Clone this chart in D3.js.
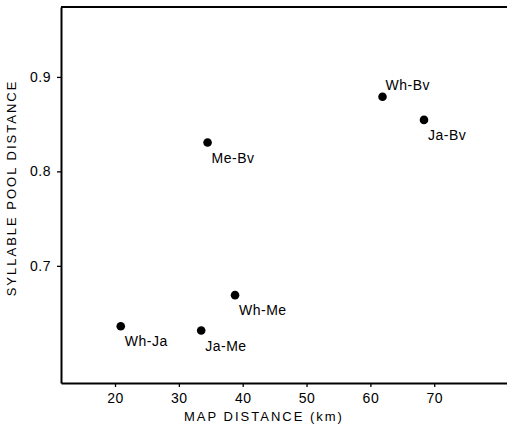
<!DOCTYPE html>
<html>
<head>
<meta charset="utf-8">
<script src="https://cdn.jsdelivr.net/npm/d3@7"></script>
<style>
  body { margin: 0; background: #fff; }
  svg { display: block; font-family: 'Liberation Sans', Arial, sans-serif; }
  .axis path, .axis line { stroke: #000; }
  .axis text { font-size: 14px; fill: #000; letter-spacing: 0.5px; }
</style>
</head>
<body>
<div id="chart"></div>
<script>
// village pairs, map distance (km) vs syllable pool distance
var pairs = ['Wh-Bv', 'Ja-Bv', 'Me-Bv', 'Wh-Me', 'Wh-Ja', 'Ja-Me']
var mapDistance = [61.9, 68.4, 34.5, 38.8, 20.9, 33.5]
var poolDistance = [0.879, 0.8545, 0.8305, 0.669, 0.636, 0.6315]
var xTicks = [20, 30, 40, 50, 60, 70]
var yTicks = [0.7, 0.8, 0.9]
var labelAbove = ['Wh-Bv']

var data = pairs.map(function (p, i) {
  return { key: p, x: mapDistance[i], y: poolDistance[i] }
})

var W = 507, H = 425
var margin = { top: 7, right: 0, bottom: 42, left: 61 },
  width = W - margin.left - margin.right,
  height = H - margin.top - margin.bottom

var svg = d3
  .select('#chart')
  .append('svg')
  .attr('width', W)
  .attr('height', H)

var g = svg
  .append('g')
  .attr('transform', 'translate(' + margin.left + ',' + margin.top + ')')

var x = d3.scaleLinear().domain([11.54, 81.4]).range([0, width])
var y = d3.scaleLinear().domain([0.576, 0.974]).range([height, 0])

// top edge of the frame
g.append('line')
  .attr('x1', 0)
  .attr('x2', width)
  .attr('y1', 0)
  .attr('y2', 0)
  .attr('stroke', '#000')
  .attr('stroke-width', 2)

var xAxis = g
  .append('g')
  .attr('class', 'axis')
  .attr('transform', 'translate(0,' + height + ')')
  .call(
    d3.axisBottom(x)
      .tickValues(xTicks)
      .tickSize(4)
      .tickSizeOuter(0)
      .tickPadding(6)
      .tickFormat(d3.format('d'))
  )
xAxis.select('.domain').attr('stroke-width', 2)
xAxis.selectAll('.tick line').attr('stroke-width', 1.3)

var yAxis = g
  .append('g')
  .attr('class', 'axis')
  .call(
    d3.axisLeft(y)
      .tickValues(yTicks)
      .tickSize(4)
      .tickSizeOuter(0)
      .tickPadding(6)
      .tickFormat(d3.format('.1f'))
  )
yAxis.select('.domain').attr('stroke-width', 2)
yAxis.selectAll('.tick line').attr('stroke-width', 1.3)

// points
g.selectAll('.dot')
  .data(data)
  .enter()
  .append('circle')
  .attr('class', 'dot')
  .attr('cx', function (d) { return x(d.x) })
  .attr('cy', function (d) { return y(d.y) })
  .attr('r', 4.3)
  .attr('fill', '#000')

g.selectAll('.lbl')
  .data(data)
  .enter()
  .append('text')
  .attr('class', 'lbl')
  .attr('x', function (d) {
    return x(d.x) + (labelAbove.indexOf(d.key) >= 0 ? 3 : 4)
  })
  .attr('y', function (d) {
    return y(d.y) + (labelAbove.indexOf(d.key) >= 0 ? -7 : 20)
  })
  .text(function (d) { return d.key })
  .style('font-size', '14px')
  .style('letter-spacing', '0.5px')
  .style('fill', '#000')

// axis titles
svg
  .append('text')
  .attr('x', 264)
  .attr('y', 421)
  .attr('text-anchor', 'middle')
  .style('font-size', '13px')
  .style('letter-spacing', '2px')
  .text('MAP DISTANCE (km)')

svg
  .append('text')
  .attr('transform', 'translate(16,' + 188 + ') rotate(-90)')
  .attr('text-anchor', 'middle')
  .style('font-size', '13px')
  .style('letter-spacing', '2px')
  .text('SYLLABLE POOL DISTANCE')
</script>
</body>
</html>
